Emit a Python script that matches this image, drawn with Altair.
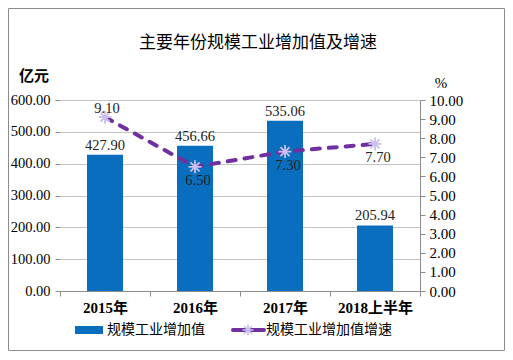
import altair as alt
import pandas as pd

categories = ["2015年", "2016年", "2017年", "2018上半年"]
values = [427.90, 456.66, 535.06, 205.94]
growth = [9.10, 6.50, 7.30, 7.70]
left_ticks = [0, 100, 200, 300, 400, 500, 600]
right_ticks = [0, 1, 2, 3, 4, 5, 6, 7, 8, 9, 10]

df = pd.DataFrame({"cat": categories, "val": values, "rate": growth})
df["val_label"] = [f"{v:.2f}" for v in values]
df["rate_label"] = [f"{v:.2f}" for v in growth]
one = pd.DataFrame({"a": [0]})

SERIF = "Liberation Serif, Times New Roman, Noto Sans CJK SC"
CJK = "Noto Sans CJK SC"
W, H = 360, 191
GRID = "#c4c4c4"
AX = "#8c8c8c"
BLUE = "#0A6EBF"
PURPLE = "#7030A0"
STARC = "#C9C0EE"
STAR = "M-1,0L1,0M0,-1L0,1M-0.7,-0.7L0.7,0.7M-0.7,0.7L0.7,-0.7"

x_enc = alt.X(
    "cat:N", sort=categories, title=None,
    scale=alt.Scale(paddingInner=0, paddingOuter=0),
    axis=alt.Axis(labelAngle=0, labelFont=SERIF, labelFontWeight="bold",
                  labelFontSize=15, labelColor="black", tickBand="extent",
                  domainColor=AX, tickColor=AX, tickSize=5, labelPadding=4,
                  grid=False),
)
y_left = alt.Y(
    "val:Q", title=None, scale=alt.Scale(domain=[0, 600]),
    axis=alt.Axis(values=left_ticks, format=".2f", grid=True, gridColor=GRID,
                  domain=False, tickColor=AX, tickSize=5, labelFont=SERIF,
                  labelFontSize=14.5, labelColor="black", labelPadding=5),
)
y_right = alt.Y(
    "rate:Q", title=None, scale=alt.Scale(domain=[0, 10]),
    axis=alt.Axis(orient="right", values=right_ticks, format=".2f", grid=False,
                  domain=True, domainColor=AX, tickColor=AX, tickSize=5,
                  labelFont=SERIF, labelFontSize=15, labelColor="black",
                  labelPadding=4),
)

base = alt.Chart(df)
bars = base.mark_bar(size=36, color=BLUE).encode(x=x_enc, y=y_left)
bar_lbl = base.mark_text(dy=-9, font=SERIF, fontSize=14.5, color="#222").encode(
    x=x_enc, y=y_left, text="val_label:N")
left = alt.layer(bars, bar_lbl)

line = base.mark_line(color=PURPLE, strokeWidth=4, strokeDash=[8, 9],
                      strokeCap="round").encode(x=x_enc, y=y_right)
pts = base.mark_point(shape=STAR, size=169, color=STARC, strokeWidth=1.8,
                      filled=False, opacity=1).encode(x=x_enc, y=y_right)
lbl_up = base.transform_filter(alt.datum.cat == "2015年").mark_text(
    dy=-8, dx=2, font=SERIF, fontSize=14.5, color="#222").encode(
    x=x_enc, y=y_right, text="rate_label:N")
lbl_dn = base.transform_filter(alt.datum.cat != "2015年").mark_text(
    dy=14, dx=3, font=SERIF, fontSize=14.5, color="#222").encode(
    x=x_enc, y=y_right, text="rate_label:N")
right = alt.layer(line, pts, lbl_up, lbl_dn)

oc = alt.Chart(one)
border = oc.mark_rect(fillOpacity=0, stroke="#8c8c8c", strokeWidth=1).encode(
    x=alt.value(-51.5), x2=alt.value(444.5), y=alt.value(-91.5), y2=alt.value(250.5))
title = oc.mark_text(text="主要年份规模工业增加值及增速", font=CJK, fontSize=17,
                     color="black").encode(x=alt.value(198), y=alt.value(-57))
unit_l = oc.mark_text(text="亿元", font=CJK, fontSize=15, fontWeight="bold",
                      color="black").encode(x=alt.value(-26), y=alt.value(-24))
unit_r = oc.mark_text(text="%", font=SERIF, fontSize=15, color="black").encode(
    x=alt.value(381), y=alt.value(-17))
leg_rect = oc.mark_rect(color=BLUE).encode(
    x=alt.value(15), x2=alt.value(43), y=alt.value(226), y2=alt.value(234))
leg_txt1 = oc.mark_text(text="规模工业增加值", font=CJK, fontSize=14, align="left",
                        color="black").encode(x=alt.value(47), y=alt.value(230))
leg_line = oc.mark_rule(color=PURPLE, strokeWidth=4, strokeCap="round").encode(
    x=alt.value(173), x2=alt.value(204), y=alt.value(230))
leg_star = oc.mark_point(shape=STAR, size=120, color=STARC, strokeWidth=1.6,
                         filled=False, opacity=1).encode(x=alt.value(188), y=alt.value(230))
leg_txt2 = oc.mark_text(text="规模工业增加值增速", font=CJK, fontSize=14, align="left",
                        color="black").encode(x=alt.value(206), y=alt.value(230))

chart = alt.layer(
    left, right, border, title, unit_l, unit_r, leg_rect, leg_txt1, leg_line,
    leg_star, leg_txt2,
).resolve_scale(y="independent").properties(
    width=W, height=H,
    autosize=alt.AutoSizeParams(type="none"),
    padding={"left": 52, "top": 92, "right": 85, "bottom": 60},
).configure_view(stroke=None)

chart.save("out.html", embed_options={"renderer": "svg", "actions": False})
